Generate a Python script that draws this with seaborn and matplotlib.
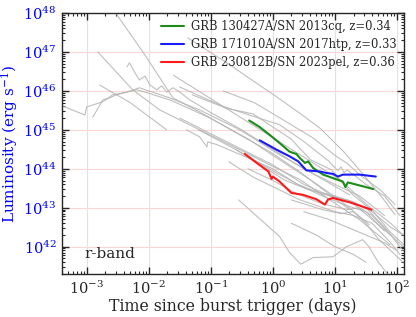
import numpy as np
import pandas as pd
import matplotlib
matplotlib.use("Agg")
import matplotlib.pyplot as plt
import seaborn as sns

# ---- data (log10 days, log10 erg/s) ----
grb130427_logt = [-0.38, -0.21, -0.05, 0.11, 0.27, 0.38, 0.44, 0.52, 0.57, 0.65, 0.81, 0.97, 1.13, 1.17, 1.21, 1.62]
grb130427_logL = [45.24, 45.07, 44.87, 44.66, 44.44, 44.38, 44.27, 44.15, 44.19, 44.02, 43.85, 43.76, 43.67, 43.53, 43.65, 43.48]

grb171010_logt = [-0.21, 0.06, 0.27, 0.41, 0.54, 0.76, 0.87, 0.97, 1.05, 1.13, 1.40, 1.66]
grb171010_logL = [44.73, 44.49, 44.32, 44.19, 43.96, 43.93, 43.89, 43.87, 43.80, 43.85, 43.85, 43.80]

grb230812_logt = [-0.45, -0.26, -0.07, -0.02, 0.0, 0.11, 0.30, 0.49, 0.70, 0.84, 0.89, 0.97, 1.24, 1.59]
grb230812_logL = [44.38, 44.15, 43.93, 43.74, 43.80, 43.67, 43.38, 43.33, 43.22, 43.08, 43.21, 43.25, 43.14, 42.95]

labels = ["GRB 130427A/SN 2013cq, z=0.34",
          "GRB 171010A/SN 2017htp, z=0.33",
          "GRB 230812B/SN 2023pel, z=0.36"]
colors = ["#1a8c1a", "#1a1aff", "#ff1a1a"]

gray_logt = [
    [-2.52, -2.06, -1.61, -1.18, -0.53, -0.05, 0.44, 0.92, 1.24],
    [-1.37, -0.71, -0.32, 0.06, 0.45, 0.77, 1.16, 1.45, 1.73, 1.97],
    [-1.30, -0.76, -0.32, 0.29, 0.61, 0.95, 1.27, 1.61, 1.89, 2.11],
    [-3.40, -3.03, -3.00, -2.74, -2.58, -2.35, -2.19, -1.66, -1.02, -0.37, 0.11, 0.60, 1.08, 1.56],
    [-2.90, -2.74, -2.63, -2.52, -2.35, -2.15, -1.66, -1.18, -0.53, 0.11, 0.76, 1.24],
    [-2.82, -2.26, -1.82, -1.18, -0.53, -0.05, 0.44, 0.92, 1.40, 1.89],
    [-2.79, -2.30, -1.71],
    [-2.35, -2.31, -2.23, -2.15, -2.06, -1.98, -1.87, -1.79, -1.71, -1.61, -1.50, -1.34, -1.18, -1.02, -0.50, 0.0, 0.5, 1.0, 1.4, 1.8],
    [-1.39, -1.18, -1.06, -1.05, -0.90, -0.50, 0.0, 0.4, 0.8, 1.2, 1.5, 1.8],
    [-1.50, -1.00, -0.50, 0.0, 0.5, 1.0, 1.3, 1.6, 1.9],
    [-1.20, -0.60, 0.0, 0.4, 0.8, 1.2, 1.5, 1.8, 2.1],
    [-0.80, -0.30, 0.11, 0.65, 1.03, 1.19, 1.40, 1.73, 1.97],
    [-1.50, -0.80, 0.11, 0.50, 0.90, 1.05, 1.10, 1.15, 1.20, 1.30, 1.50, 1.80, 2.05],
    [-0.60, -0.20, 0.20, 0.60, 1.00, 1.30, 1.60, 1.90, 2.10],
    [-0.40, 0.00, 0.40, 0.80, 1.20, 1.40, 1.60, 1.90, 2.10],
    [-0.71, -0.32, 0.44, 1.00, 1.30, 1.60, 1.90, 2.05],
    [-0.55, 0.11, 0.27, 0.45, 0.65, 0.97, 1.19, 1.45, 1.55, 1.70, 1.85],
    [0.30, 0.80, 1.10, 1.30, 1.50, 1.70, 1.90, 2.10],
    [0.50, 0.90, 1.20, 1.50, 1.80, 2.00],
    [0.30, 0.70, 1.00, 1.30, 1.50],
    [-1.60, -1.20, -0.80, -0.30, 0.20, 0.70, 1.10, 1.50, 1.90, 2.10],
]
gray_logL = [
    [47.97, 46.92, 45.82, 45.46, 44.87, 44.44, 43.92, 43.33, 42.95],
    [47.36, 46.69, 46.26, 45.85, 45.41, 45.03, 44.41, 43.87, 43.33, 42.82],
    [45.90, 45.56, 45.41, 44.77, 44.23, 43.97, 43.36, 42.92, 42.38, 42.05],
    [45.62, 45.38, 45.59, 45.72, 45.90, 45.97, 46.03, 45.77, 45.31, 44.74, 44.23, 43.72, 43.20, 42.56],
    [45.33, 45.77, 45.82, 45.90, 45.97, 46.08, 45.82, 45.51, 45.00, 44.36, 43.77, 43.33],
    [47.00, 46.03, 45.51, 45.00, 44.49, 44.10, 43.72, 43.20, 42.69, 42.05],
    [46.15, 45.70, 45.00],
    [46.62, 46.72, 46.49, 46.28, 46.38, 46.15, 46.03, 46.13, 45.97, 46.08, 45.97, 45.77, 45.62, 45.46, 45.00, 44.50, 44.00, 43.60, 43.30, 42.80],
    [45.00, 44.82, 44.56, 44.69, 44.62, 44.35, 44.00, 43.60, 43.30, 43.05, 42.90, 42.40],
    [45.30, 44.90, 44.50, 44.10, 43.60, 43.25, 43.10, 42.70, 42.30],
    [45.00, 44.50, 43.95, 43.60, 43.35, 43.20, 43.00, 42.50, 41.90],
    [46.00, 45.70, 45.31, 44.79, 44.31, 44.15, 43.85, 43.46, 43.08],
    [46.10, 45.60, 45.13, 44.70, 44.20, 43.95, 44.05, 43.90, 43.97, 43.85, 43.60, 43.30, 42.80],
    [44.50, 44.10, 43.70, 43.45, 43.30, 43.15, 42.90, 42.50, 42.30],
    [44.00, 43.70, 43.35, 43.10, 42.95, 43.00, 42.80, 42.30, 42.00],
    [44.18, 43.79, 43.20, 42.90, 42.80, 42.60, 42.10, 41.80],
    [43.20, 42.26, 41.85, 41.55, 41.72, 41.74, 42.00, 42.18, 42.00, 41.60, 41.30],
    [43.20, 42.95, 42.85, 42.90, 42.60, 42.20, 41.90, 41.60],
    [42.90, 42.70, 42.50, 42.30, 42.10, 41.90],
    [42.60, 42.30, 42.00, 41.80, 41.60],
    [46.40, 46.00, 45.60, 45.10, 44.60, 44.10, 43.70, 43.10, 42.60, 42.30],
]

# ---- build long-form tables ----
rows = []
for i, (lt, lL) in enumerate(zip(gray_logt, gray_logL)):
    for a, b in zip(lt, lL):
        rows.append({"id": i, "t": 10 ** a, "L": 10 ** b})
gray_df = pd.DataFrame(rows)

sns.set_style("ticks")
plt.rcParams["font.family"] = ["DejaVu Serif"]
plt.rcParams["mathtext.fontset"] = "dejavuserif"

fig = plt.figure(figsize=(4.16, 3.17), dpi=100)
ax = fig.add_axes([0.149, 0.136, 0.822, 0.823])

sns.lineplot(data=gray_df, x="t", y="L", units="id", estimator=None, sort=False,
             color="#b4b4b4", alpha=0.85, linewidth=0.8, ax=ax, legend=False)

for lt, lL, lab, col in zip([grb130427_logt, grb171010_logt, grb230812_logt],
                            [grb130427_logL, grb171010_logL, grb230812_logL],
                            labels, colors):
    d = pd.DataFrame({"t": 10 ** np.array(lt), "L": 10 ** np.array(lL)})
    sns.lineplot(data=d, x="t", y="L", sort=False, color=col, linewidth=1.5,
                 label=lab, ax=ax)

ax.set_xscale("log")
ax.set_yscale("log")
ax.set_xlim(4e-4, 130)
ax.set_ylim(2e41, 1e48)
ax.set_xticks([1e-3, 1e-2, 1e-1, 1e0, 1e1, 1e2])
ax.set_yticks([1e42, 1e43, 1e44, 1e45, 1e46, 1e47, 1e48])
ax.xaxis.set_minor_locator(matplotlib.ticker.LogLocator(base=10, subs=np.arange(2, 10), numticks=20))
ax.yaxis.set_minor_locator(matplotlib.ticker.LogLocator(base=10, subs=np.arange(2, 10), numticks=20))
ax.xaxis.set_minor_formatter(matplotlib.ticker.NullFormatter())
ax.yaxis.set_minor_formatter(matplotlib.ticker.NullFormatter())

ax.grid(True, which="major", color="#ffd6d6", linewidth=0.8)
ax.tick_params(which="both", direction="in", top=True, right=True)
ax.tick_params(which="major", length=5, width=1.0, labelsize=10.5, pad=4)
ax.tick_params(which="minor", length=2.5, width=0.8)
ax.tick_params(axis="y", labelcolor="blue")
for s in ax.spines.values():
    s.set_linewidth(1.0)

ax.set_xlabel("Time since burst trigger (days)", fontsize=11.3, labelpad=1)
ax.set_ylabel(r"Luminosity (erg s$^{-1}$)", fontsize=11, color="blue", labelpad=2)

ax.text(0.066, 0.06, "r-band", transform=ax.transAxes, fontsize=11)

ax.legend(loc="upper right", frameon=False, fontsize=8.3, handlelength=2.0,
          borderaxespad=0.2, labelspacing=0.45, handletextpad=0.6)

fig.savefig("out.png", dpi=100)
